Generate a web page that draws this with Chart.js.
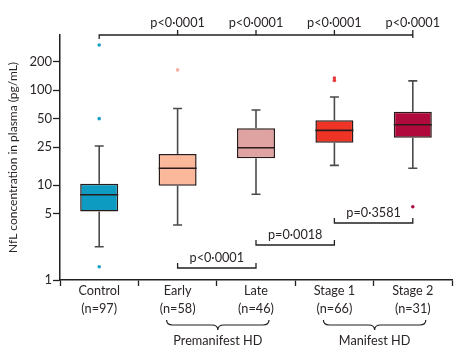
<!DOCTYPE html>
<html><head><meta charset="utf-8">
<script src="https://cdn.jsdelivr.net/npm/chart.js@4/dist/chart.umd.min.js"></script>
<style>html,body{margin:0;padding:0;background:#fff}#wrap{width:463px;height:363px;position:relative}</style>
</head><body><div id="wrap"><canvas id="c"></canvas></div>
<script>
// ---- data ----
const categories = ['Control', 'Early', 'Late', 'Stage 1', 'Stage 2'];
const groupSizes = ['(n=97)', '(n=58)', '(n=46)', '(n=66)', '(n=31)'];
const whiskerLow = [2.24, 3.8, 8.0, 16.1, 15.0];
const q1 = [5.25, 9.8, 19.2, 27.9, 31.5];
const medians = [7.9, 15.0, 24.7, 37.6, 43.1];
const q3 = [10.3, 21.2, 39.5, 48.0, 59.1];
const whiskerHigh = [25.8, 64, 61.6, 84.4, 125];
const outlierGroups = ['Control', 'Control', 'Control', 'Early', 'Stage 1', 'Stage 1', 'Stage 2'];
const outlierValues = [298, 50, 1.38, 163, 126, 134, 5.9];
const yTicks = [1, 5, 10, 25, 50, 100, 200];
const topComparisons = ['Early', 'Late', 'Stage 1', 'Stage 2'];
const topPValues = ['p<0·0001', 'p<0·0001', 'p<0·0001', 'p<0·0001'];
const pairFrom = ['Early', 'Late', 'Stage 1'];
const pairTo = ['Late', 'Stage 1', 'Stage 2'];
const pairPValues = ['p<0·0001', 'p=0·0018', 'p=0·3581'];
const groupNames = ['Premanifest HD', 'Manifest HD'];
const groupFirst = ['Early', 'Stage 1'];
const groupLast = ['Late', 'Stage 2'];

// ---- styles ----
const boxColors = ['#0d9bc2', '#fbb89b', '#dfa3a2', '#ef3426', '#b00a3c'];
const outlierColorByGroup = {'Control': '#1aa0c8', 'Early': '#f8b0a0', 'Late': '#dfa3a2', 'Stage 1': '#e8383a', 'Stage 2': '#a8103e'};
const FONT = 'Lato, "Open Sans", sans-serif';
const FS = 12.7;
const TXT = '#2a2526';
const AX = '#231f20';

const annotations = {
  id: 'annotations',
  afterDatasetsDraw(chart) {
    const ctx = chart.ctx, xs = chart.scales.x, ys = chart.scales.y, ca = chart.chartArea;
    const px = c => xs.getPixelForValue(categories.indexOf(c));
    const half = xs.getPixelForValue(1) - xs.getPixelForValue(0);
    const boxHalf = half * 0.485 / 2;
    const capHalf = 4.5;
    ctx.save();
    // whiskers & medians
    for (let i = 0; i < categories.length; i++) {
      const x = xs.getPixelForValue(i);
      ctx.strokeStyle = '#4a4a4a'; ctx.lineWidth = 1.6;
      ctx.beginPath();
      ctx.moveTo(x, ys.getPixelForValue(q3[i])); ctx.lineTo(x, ys.getPixelForValue(whiskerHigh[i]));
      ctx.moveTo(x, ys.getPixelForValue(q1[i])); ctx.lineTo(x, ys.getPixelForValue(whiskerLow[i]));
      ctx.moveTo(x - capHalf, ys.getPixelForValue(whiskerHigh[i])); ctx.lineTo(x + capHalf, ys.getPixelForValue(whiskerHigh[i]));
      ctx.moveTo(x - capHalf, ys.getPixelForValue(whiskerLow[i])); ctx.lineTo(x + capHalf, ys.getPixelForValue(whiskerLow[i]));
      ctx.stroke();
      ctx.strokeStyle = '#2a1a1a'; ctx.lineWidth = 1.6;
      ctx.beginPath();
      const my = ys.getPixelForValue(medians[i]);
      ctx.moveTo(x - boxHalf, my); ctx.lineTo(x + boxHalf, my);
      ctx.stroke();
    }
    // top bracket
    ctx.strokeStyle = AX; ctx.lineWidth = 1.3;
    const ty = ca.top;
    const xStart = px('Control'), xEnd = px(topComparisons[topComparisons.length - 1]);
    ctx.beginPath();
    ctx.moveTo(xStart, ty + 4); ctx.lineTo(xStart, ty); ctx.lineTo(xEnd, ty); ctx.lineTo(xEnd, ty + 3);
    topComparisons.forEach(c => { ctx.moveTo(px(c), ty); ctx.lineTo(px(c), ty - 5); });
    ctx.stroke();
    ctx.fillStyle = TXT; ctx.font = FS + 'px ' + FONT;
    ctx.textAlign = 'center'; ctx.textBaseline = 'middle';
    topComparisons.forEach((c, i) => ctx.fillText(topPValues[i], px(c), ty - 12));
    // pair brackets
    const levels = [12, 35, 57];
    pairFrom.forEach((f, i) => {
      const y = ca.bottom - levels[i];
      const a = px(f), b = px(pairTo[i]);
      ctx.beginPath();
      ctx.moveTo(a, y - 5); ctx.lineTo(a, y); ctx.lineTo(b, y); ctx.lineTo(b, y - 5);
      ctx.stroke();
      ctx.fillText(pairPValues[i], (a + b) / 2, y - 10);
    });
    // group braces
    ctx.lineWidth = 1.2;
    groupNames.forEach((g, i) => {
      const a = px(groupFirst[i]) - 11, b = px(groupLast[i]) + 13;
      const m = (a + b) / 2, y0 = ca.bottom + 40, y1 = y0 + 5, y2 = y0 + 10;
      ctx.beginPath();
      ctx.moveTo(a, y0);
      ctx.quadraticCurveTo(a, y1, a + 6, y1);
      ctx.lineTo(m - 6, y1);
      ctx.quadraticCurveTo(m, y1, m, y2);
      ctx.quadraticCurveTo(m, y1, m + 6, y1);
      ctx.lineTo(b - 6, y1);
      ctx.quadraticCurveTo(b, y1, b, y0);
      ctx.stroke();
      ctx.fillText(g, m, ca.bottom + 61);
    });
    ctx.restore();
  }
};

new Chart(document.getElementById('c'), {
  type: 'bar',
  data: {
    labels: categories,
    datasets: [{
      type: 'bar',
      data: q1.map((v, i) => [v, q3[i]]),
      backgroundColor: boxColors,
      borderColor: '#2a1a1a',
      borderWidth: 1.5,
      borderSkipped: false,
      barPercentage: 0.485,
      categoryPercentage: 1,
      order: 2
    }, {
      type: 'line',
      showLine: false,
      data: outlierGroups.map((g, i) => ({x: g, y: outlierValues[i]})),
      pointRadius: 1.8,
      pointBorderWidth: 0,
      pointBackgroundColor: outlierGroups.map(g => outlierColorByGroup[g]),
      order: 1
    }]
  },
  options: {
    responsive: true,
    maintainAspectRatio: false,
    animation: false,
    events: [],
    layout: {padding: {top: 35, right: 11, left: 0, bottom: 0}},
    plugins: {legend: {display: false}, tooltip: {enabled: false}},
    scales: {
      x: {
        offset: true,
        afterFit: s => { s.height = 83; },
        grid: {drawOnChartArea: false, offset: true, tickLength: 6, tickColor: AX, tickWidth: 1.3},
        border: {display: true, color: AX, width: 1.5},
        ticks: {
          callback: (v, i) => [categories[i], groupSizes[i]],
          font: {family: FONT, size: FS, lineHeight: 1.42},
          color: TXT, padding: -4, maxRotation: 0, autoSkip: false
        }
      },
      y: {
        type: 'logarithmic', min: 1, max: 380,
        afterBuildTicks: s => { s.ticks = yTicks.map(v => ({value: v})); },
        afterFit: s => { s.width = 60; },
        grid: {drawOnChartArea: false, tickLength: 7, tickColor: AX, tickWidth: 1.3},
        border: {display: true, color: AX, width: 1.5},
        ticks: {callback: v => String(v), font: {family: FONT, size: 13}, color: TXT, padding: 1, autoSkip: false},
        title: {display: true, text: 'NfL concentration in plasma (pg/mL)', font: {family: FONT, size: 12}, color: TXT, padding: {top: 6, bottom: 0}}
      }
    }
  },
  plugins: [annotations]
});
</script></body></html>
